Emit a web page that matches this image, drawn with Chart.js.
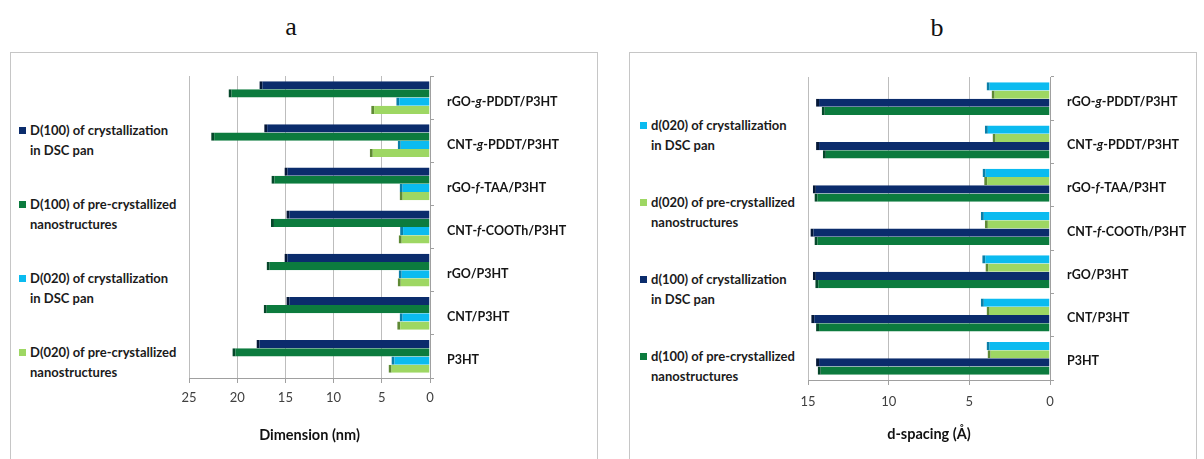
<!DOCTYPE html>
<html>
<head>
<meta charset="utf-8">
<script src="https://cdn.jsdelivr.net/npm/chart.js@4.4.1/dist/chart.umd.min.js"></script>
<style>
  html, body { margin: 0; padding: 0; background: #fff; }
  body { width: 1204px; height: 459px; position: relative; overflow: hidden; }
  .panel { position: absolute; border: 1px solid #c6c6c6; box-sizing: border-box; }
  .tag { position: absolute; font-family: "Liberation Serif", "DejaVu Serif", serif; font-size: 26px; color: #111; transform: translate(-50%, -50%); line-height: 1; }
  .legend { position: absolute; font-family: Lato, "Open Sans", sans-serif; font-weight: bold; font-size: 13px; color: #1b1b1b; }
  .legend .item { position: absolute; left: 0; white-space: nowrap; }
  .legend .line { height: 20px; line-height: 20px; padding-left: 11px; position: relative; }
  .legend .sw { position: absolute; left: 0; top: 7px; width: 7px; height: 7px; }
  canvas { position: absolute; }
</style>
</head>
<body>
<div class="panel" style="left:10px; top:52px; width:588px; height:430px;"></div>
<div class="panel" style="left:629px; top:52px; width:568px; height:430px;"></div>
<div class="tag" style="left:291px; top:27px;">a</div>
<div class="tag" style="left:937px; top:28px;">b</div>
<div class="legend" id="legendA" style="left:19px; top:0px;"></div>
<div class="legend" id="legendB" style="left:640px; top:0px;"></div>
<canvas id="chartA" width="450" height="399" style="left:150px; top:60px;"></canvas>
<canvas id="chartB" width="434" height="399" style="left:770px; top:60px;"></canvas>
<script>
// Samples (top to bottom); a single letter between hyphens is set in italics
const categories = ['rGO-g-PDDT/P3HT', 'CNT-g-PDDT/P3HT', 'rGO-f-TAA/P3HT', 'CNT-f-COOTh/P3HT', 'rGO/P3HT', 'CNT/P3HT', 'P3HT'];

// Panel a: crystal dimension (nm)
const dimTicks = [0, 5, 10, 15, 20, 25];
const dimD100Dsc = [17.7, 17.2, 15.1, 14.9, 15.1, 14.9, 18.0];
const dimD100Pre = [20.9, 22.7, 16.45, 16.5, 16.95, 17.25, 20.5];
const dimD020Dsc = [3.5, 3.35, 3.15, 3.1, 3.25, 3.15, 4.0];
const dimD020Pre = [6.1, 6.25, 3.15, 3.25, 3.35, 3.4, 4.3];

// Panel b: d-spacing (Å)
const dspTicks = [0, 5, 10, 15];
const dspD020Dsc = [3.93, 4.04, 4.18, 4.29, 4.2, 4.29, 3.93];
const dspD020Pre = [3.62, 3.56, 4.08, 4.04, 4.0, 3.93, 3.87];
const dspD100Dsc = [14.5, 14.5, 14.7, 14.85, 14.7, 14.8, 14.5];
const dspD100Pre = [14.15, 14.08, 14.6, 14.6, 14.55, 14.5, 14.4];

const labelsA = [
  ['D(100) of crystallization', 'in DSC pan'],
  ['D(100) of pre-crystallized', 'nanostructures'],
  ['D(020) of crystallization', 'in DSC pan'],
  ['D(020) of pre-crystallized', 'nanostructures']
];
const labelsB = [
  ['d(020) of crystallization', 'in DSC pan'],
  ['d(020) of pre-crystallized', 'nanostructures'],
  ['d(100) of crystallization', 'in DSC pan'],
  ['d(100) of pre-crystallized', 'nanostructures']
];

const NAVY = { fill: '#0b2c6c', side: '#051838' };
const GREEN = { fill: '#0c7b3e', side: '#05472a' };
const CYAN = { fill: '#0bbbf0', side: '#0a7fa8' };
const LIME = { fill: '#9ed763', side: '#5f8a35' };

const LABEL_FONT = 'bold 12.5px Lato, "Open Sans", sans-serif';

function makeSet(label, data, col) {
  return {
    label: label.join(' '),
    data: data,
    backgroundColor: col.fill,
    borderColor: col.side,
    borderWidth: { left: 3, right: 0, top: 0, bottom: 0 },
    borderSkipped: false
  };
}

function buildLegend(el, labels, cols, firstY, step) {
  labels.forEach((lines, i) => {
    const item = document.createElement('div');
    item.className = 'item';
    item.style.top = (firstY + i * step - 10) + 'px';
    lines.forEach((t, j) => {
      const ln = document.createElement('div');
      ln.className = 'line';
      if (j === 0) {
        const sw = document.createElement('span');
        sw.className = 'sw';
        sw.style.background = cols[i].fill;
        ln.appendChild(sw);
      }
      ln.appendChild(document.createTextNode(t));
      item.appendChild(ln);
    });
    el.appendChild(item);
  });
}

// Category names drawn to the right of the axis, with italic infix letters
const categoryLabels = {
  id: 'categoryLabels',
  afterDraw(chart, args, opts) {
    const { ctx, chartArea } = chart;
    const y = chart.scales.y;
    ctx.save();
    ctx.fillStyle = '#151515';
    ctx.textBaseline = 'middle';
    ctx.textAlign = 'left';
    chart.data.labels.forEach((name, i) => {
      let x = chartArea.right + opts.dx;
      const py = y.getPixelForValue(i) + opts.dy;
      const parts = name.split('-');
      parts.forEach((p, k) => {
        const italic = p.length === 1 && k > 0 && k < parts.length - 1;
        ctx.font = (italic ? 'italic ' : '') + LABEL_FONT;
        ctx.fillText(p, x, py);
        x += ctx.measureText(p).width;
        if (k < parts.length - 1) {
          ctx.font = LABEL_FONT;
          ctx.fillText('-', x, py);
          x += ctx.measureText('-').width;
        }
      });
    });
    ctx.restore();
  }
};

function makeChart(id, sets, ticks, title, geo) {
  const maxV = ticks[ticks.length - 1];
  return new Chart(document.getElementById(id), {
    type: 'bar',
    data: { labels: categories, datasets: sets },
    options: {
      indexAxis: 'y',
      responsive: false,
      animation: false,
      devicePixelRatio: 1,
      layout: { padding: { left: geo.left, top: geo.top, right: 0, bottom: 0 } },
      datasets: { bar: { categoryPercentage: 0.76, barPercentage: 1 } },
      plugins: {
        legend: { display: false },
        tooltip: { enabled: false },
        categoryLabels: { dx: geo.dx, dy: geo.dy }
      },
      scales: {
        x: {
          reverse: true,
          min: 0,
          max: maxV,
          afterBuildTicks: s => { s.ticks = ticks.map(v => ({ value: v })); },
          ticks: { color: '#404040', font: { family: 'Lato', size: 13 }, padding: geo.tickPad, maxRotation: 0 },
          grid: { color: '#bdbdbd', tickLength: 5, tickColor: '#a0a0a0' },
          border: { color: '#a0a0a0' },
          title: {
            display: true,
            text: title,
            color: '#111',
            font: { family: 'Lato', size: 14.5, weight: 'bold' },
            padding: { top: 0, bottom: geo.titlePad }
          },
          afterFit: s => { s.height = geo.xHeight; }
        },
        y: {
          position: 'right',
          ticks: { display: false },
          grid: { drawOnChartArea: false, tickLength: 4, color: '#a0a0a0', offset: true },
          border: { color: '#a0a0a0' },
          afterFit: s => { s.width = geo.yWidth; }
        }
      }
    },
    plugins: [categoryLabels]
  });
}

const colsA = [NAVY, GREEN, CYAN, LIME];
const colsB = [CYAN, LIME, NAVY, GREEN];

buildLegend(document.getElementById('legendA'), labelsA, colsA, 130, 74);
buildLegend(document.getElementById('legendB'), labelsB, colsB, 125, 77);

makeChart('chartA', [
  makeSet(labelsA[0], dimD100Dsc, NAVY),
  makeSet(labelsA[1], dimD100Pre, GREEN),
  makeSet(labelsA[2], dimD020Dsc, CYAN),
  makeSet(labelsA[3], dimD020Pre, LIME)
], dimTicks, 'Dimension (nm)', { left: 39, top: 16, xHeight: 81, yWidth: 170, tickPad: 7, titlePad: 15, dx: 17, dy: 4 });

makeChart('chartB', [
  makeSet(labelsB[0], dspD020Dsc, CYAN),
  makeSet(labelsB[1], dspD020Pre, LIME),
  makeSet(labelsB[2], dspD100Dsc, NAVY),
  makeSet(labelsB[3], dspD100Pre, GREEN)
], dspTicks, 'd-spacing (Å)', { left: 38, top: 17, xHeight: 79, yWidth: 154, tickPad: 9, titlePad: 16, dx: 17, dy: 3 });
</script>
</body>
</html>
